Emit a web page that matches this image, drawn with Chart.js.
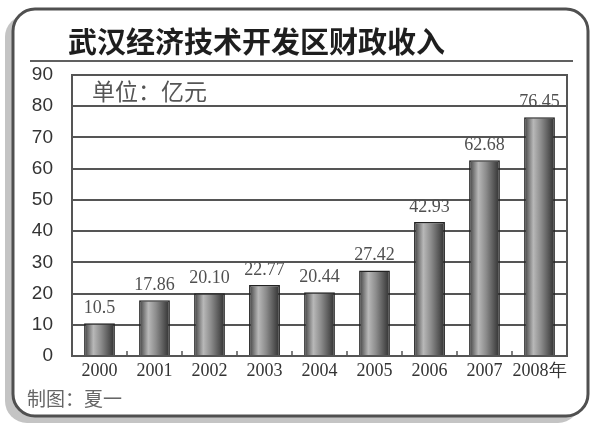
<!DOCTYPE html>
<html>
<head>
<meta charset="utf-8">
<script src="https://cdn.jsdelivr.net/npm/chart.js@4"></script>
<style>
  html, body { margin: 0; padding: 0; background: #fff; }
  #wrap { width: 600px; height: 428px; }
</style>
</head>
<body>
<div id="wrap"><canvas id="chart" width="600" height="428"></canvas></div>
<script>
const years = ['2000', '2001', '2002', '2003', '2004', '2005', '2006', '2007', '2008年']
const values = [10.5, 17.86, 20.10, 22.77, 20.44, 27.42, 42.93, 62.68, 76.45]
const valueLabels = ['10.5', '17.86', '20.10', '22.77', '20.44', '27.42', '42.93', '62.68', '76.45']
const yTicks = [0, 10, 20, 30, 40, 50, 60, 70, 80, 90]

const titleText = '武汉经济技术开发区财政收入'
const unitText = '单位：亿元'
const footText = '制图：夏一'

const cjk = '"Noto Sans CJK SC", "Noto Sans", sans-serif'
const BAR_PCT = 0.56

function roundRect(ctx, x, y, w, h, r) {
  ctx.beginPath()
  ctx.moveTo(x + r, y)
  ctx.lineTo(x + w - r, y)
  ctx.arcTo(x + w, y, x + w, y + r, r)
  ctx.lineTo(x + w, y + h - r)
  ctx.arcTo(x + w, y + h, x + w - r, y + h, r)
  ctx.lineTo(x + r, y + h)
  ctx.arcTo(x, y + h, x, y + h - r, r)
  ctx.lineTo(x, y + r)
  ctx.arcTo(x, y, x + r, y, r)
  ctx.closePath()
}

// cylinder-ish shading for each bar
function barFill(context) {
  const chart = context.chart
  const xs = chart.scales.x
  if (!xs || !chart.chartArea) return '#777'
  const cx = xs.getPixelForValue(context.dataIndex)
  const w = (xs.width / years.length) * BAR_PCT
  const g = chart.ctx.createLinearGradient(cx - w / 2, 0, cx + w / 2, 0)
  g.addColorStop(0, '#3c3c3c')
  g.addColorStop(0.3, '#b8b8b8')
  g.addColorStop(0.55, '#8c8c8c')
  g.addColorStop(1, '#2e2e2e')
  return g
}

const frame = {
  id: 'frame',
  beforeDraw(chart) {
    const ctx = chart.ctx
    ctx.save()
    ctx.fillStyle = '#fff'
    ctx.fillRect(0, 0, chart.width, chart.height)
    // shadow
    roundRect(ctx, 5, 15, 575, 408, 22)
    ctx.fillStyle = '#c4c4c4'
    ctx.fill()
    // box
    roundRect(ctx, 13, 9, 575, 407, 22)
    ctx.fillStyle = '#fff'
    ctx.fill()
    ctx.lineWidth = 3
    ctx.strokeStyle = '#505050'
    ctx.stroke()
    // title
    ctx.fillStyle = '#1e1e1e'
    ctx.font = 'bold 29px ' + cjk
    ctx.textBaseline = 'middle'
    ctx.textAlign = 'left'
    ctx.fillText(titleText, 68, 42)
    // underline
    ctx.beginPath()
    ctx.moveTo(30, 61)
    ctx.lineTo(573, 61)
    ctx.lineWidth = 2
    ctx.strokeStyle = '#606060'
    ctx.stroke()
    // footer
    ctx.fillStyle = '#666'
    ctx.font = '19px ' + cjk
    ctx.fillText(footText, 27, 399)
    ctx.restore()
  },
  afterDatasetsDraw(chart) {
    const ctx = chart.ctx
    const a = chart.chartArea
    const xs = chart.scales.x
    ctx.save()
    // plot border
    ctx.lineWidth = 2
    ctx.strokeStyle = '#555'
    ctx.strokeRect(a.left, a.top, a.right - a.left, a.bottom - a.top)
    // little marks between categories
    ctx.lineWidth = 1.5
    for (let i = 0; i < years.length - 1; i++) {
      const x = (xs.getPixelForValue(i) + xs.getPixelForValue(i + 1)) / 2
      ctx.beginPath()
      ctx.moveTo(x, a.bottom)
      ctx.lineTo(x, a.bottom - 5)
      ctx.stroke()
    }
    // unit
    ctx.fillStyle = '#555'
    ctx.font = '23px ' + cjk
    ctx.textAlign = 'left'
    ctx.textBaseline = 'middle'
    ctx.fillText(unitText, 92, 91)
    // value labels
    const meta = chart.getDatasetMeta(0)
    ctx.font = '18px "Liberation Serif", serif'
    ctx.textAlign = 'center'
    ctx.textBaseline = 'bottom'
    ctx.fillStyle = '#505050'
    meta.data.forEach((bar, i) => {
      ctx.fillText(valueLabels[i], bar.x, bar.y - 6)
    })
    ctx.restore()
  }
}

new Chart(document.getElementById('chart'), {
  type: 'bar',
  data: {
    labels: years,
    datasets: [{
      data: values,
      backgroundColor: barFill,
      borderColor: '#222',
      borderWidth: 1.5,
      barPercentage: BAR_PCT,
      categoryPercentage: 1
    }]
  },
  options: {
    responsive: false,
    animation: false,
    layout: { padding: { top: 75, right: 33, bottom: 40, left: 0 } },
    plugins: {
      legend: { display: false },
      tooltip: { enabled: false }
    },
    scales: {
      x: {
        afterFit: (s) => { s.height = 32 },
        grid: { display: false, drawTicks: false },
        border: { display: true, color: '#555', width: 2 },
        ticks: {
          color: '#333',
          padding: 4,
          maxRotation: 0,
          minRotation: 0,
          autoSkip: false,
          font: { family: '"Liberation Serif", serif', size: 18 }
        }
      },
      y: {
        min: 0,
        max: 90,
        afterFit: (s) => { s.width = 72 },
        afterBuildTicks: (s) => { s.ticks = yTicks.map(v => ({ value: v })) },
        grid: { color: '#555', lineWidth: 2, drawTicks: false },
        border: { display: true, color: '#555', width: 2 },
        ticks: {
          color: '#333',
          padding: 19,
          font: { family: '"Liberation Sans", sans-serif', size: 19 }
        }
      }
    }
  },
  plugins: [frame]
})
</script>
</body>
</html>
